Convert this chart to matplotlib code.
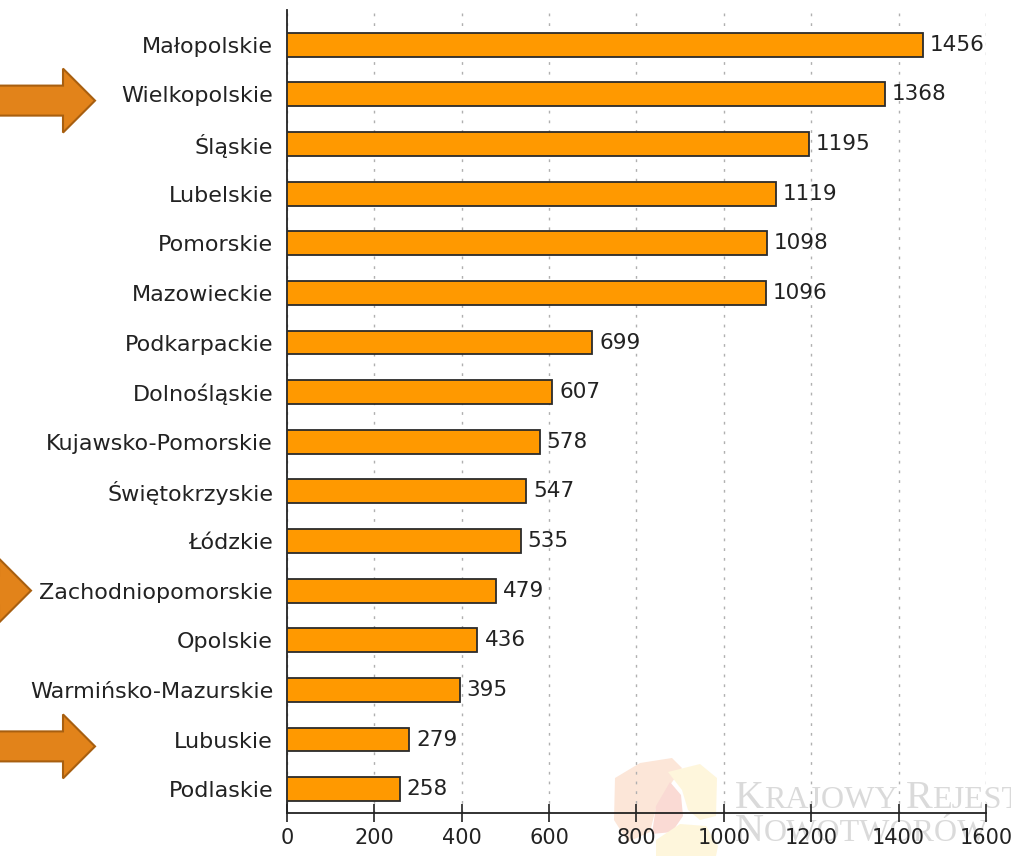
import matplotlib
matplotlib.use("Agg")
import matplotlib.pyplot as plt
from matplotlib.patches import Polygon
import numpy as np

regions = ["Małopolskie", "Wielkopolskie", "Śląskie", "Lubelskie", "Pomorskie",
           "Mazowieckie", "Podkarpackie", "Dolnośląskie", "Kujawsko-Pomorskie",
           "Świętokrzyskie", "Łódzkie", "Zachodniopomorskie", "Opolskie",
           "Warmińsko-Mazurskie", "Lubuskie", "Podlaskie"]
values = [1456, 1368, 1195, 1119, 1098, 1096, 699, 607, 578, 547, 535, 479,
          436, 395, 279, 258]
xticks = [0, 200, 400, 600, 800, 1000, 1200, 1400, 1600]

W, H = 1012, 856
fig = plt.figure(figsize=(W / 100, H / 100), dpi=100)
# axes: x 287..986 px, y 10..813 px
ax = fig.add_axes([287 / W, 1 - 813 / H, (986 - 287) / W, (813 - 10) / H])
ax.set_zorder(2)

y = np.arange(len(regions))
ax.barh(y, values, height=0.48, color="#FF9900", edgecolor="#2b2b2b",
        linewidth=1.3, zorder=3)
ax.set_ylim(len(regions) - 1 + 0.48, -0.7)
ax.set_xlim(0, 1600)
ax.set_yticks(y)
ax.set_yticklabels(regions, fontsize=16, color="#222222")
ax.set_xticks(xticks)
ax.set_xticklabels([str(t) for t in xticks], fontsize=15, color="#222222")
ax.tick_params(axis="y", length=0, pad=10)
ax.tick_params(axis="x", direction="inout", length=13, width=1.2, pad=4,
               color="#222222")
for s in ["top", "right"]:
    ax.spines[s].set_visible(False)
for s in ["left", "bottom"]:
    ax.spines[s].set_color("#222222")
    ax.spines[s].set_linewidth(1.3)
ax.grid(axis="x", linestyle=(0, (2, 5)), color="#b0b0b0", linewidth=1.0,
        zorder=0)
ax.set_axisbelow(True)
ax.patch.set_alpha(0)

for yi, v in zip(y, values):
    ax.text(v + 16, yi, str(v), va="center", ha="left", fontsize=15.5,
            color="#222222", zorder=4)

def fig_pt(px, py):
    return (px / W, 1 - py / H)

# Highlight arrows
def arrow(tip_x, cy):
    pts = [(-200, cy - 15), (tip_x - 32, cy - 15), (tip_x - 32, cy - 32),
           (tip_x, cy), (tip_x - 32, cy + 32), (tip_x - 32, cy + 15),
           (-200, cy + 15)]
    poly = Polygon([fig_pt(*p) for p in pts], closed=True,
                   transform=fig.transFigure, facecolor="#E2831A",
                   edgecolor="#A85F10", linewidth=1.5, zorder=10)
    fig.patches.append(poly)

row_px = {r: 45 + i * 49.6 for i, r in enumerate(regions)}
arrow(95, row_px["Wielkopolskie"] + 6)
arrow(31, row_px["Zachodniopomorskie"])
arrow(95, row_px["Lubuskie"] + 7)

# Faded watermark logo (behind the axes)
logo = [
    ([(615, 778), (640, 763), (672, 758), (682, 768), (668, 788), (656, 808),
      (650, 832), (628, 842), (614, 820)], "#FCE6D8"),
    ([(656, 806), (670, 782), (681, 795), (683, 816), (672, 832), (652, 834)],
     "#FADAD4"),
    ([(668, 772), (700, 764), (717, 778), (716, 816), (700, 820), (688, 810),
      (682, 790)], "#FEF6DC"),
    ([(656, 840), (680, 824), (706, 826), (718, 846), (716, 856), (656, 856)],
     "#FEF6DC"),
]
for pts, c in logo:
    fig.patches.append(Polygon([fig_pt(*p) for p in pts], closed=True,
                               transform=fig.transFigure, facecolor=c,
                               edgecolor="none", zorder=-2))

# Watermark text in small caps, chained by measured widths
renderer = fig.canvas.get_renderer()
wm_col = "#dadada"

def small_caps(x0, base_y, parts):
    x = x0
    for txt, size in parts:
        t = fig.text(x / W, 1 - base_y / H, txt, fontsize=size,
                     family="Liberation Serif", color=wm_col, va="baseline",
                     ha="left", zorder=-1)
        bb = t.get_window_extent(renderer)
        x += bb.width

small_caps(735, 808, [("K", 29), ("RAJOWY", 23), (" ", 23), ("R", 29),
                      ("EJESTR", 23)])
small_caps(735, 841, [("N", 29), ("OWOTWORÓW", 23)])

fig.savefig("out.png", dpi=100)
